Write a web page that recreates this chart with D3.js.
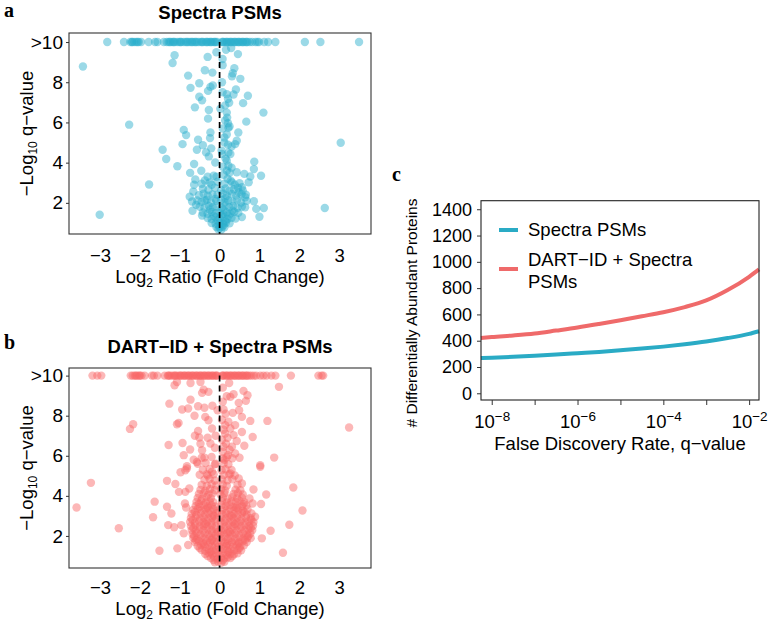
<!DOCTYPE html>
<html><head><meta charset="utf-8">
<script src="https://cdn.jsdelivr.net/npm/d3@7"></script>
<style>
body{margin:0;background:#fff}
svg{display:block}
text{font-family:"Liberation Sans",Arial,Helvetica,sans-serif;fill:#000}
</style>
</head><body>
<svg id="chart" width="768" height="623"></svg>
<script>
// ---------------- DATA ----------------
const log2Ticks = [-3, -2, -1, 0, 1, 2, 3];
const qTicks = [2, 4, 6, 8, 10];
const countTicks = [0, 200, 400, 600, 800, 1000, 1200, 1400];
const fdrTicks = [1e-8, 1e-7, 1e-6, 1e-5, 1e-4, 1e-3, 1e-2];
const seriesNames = ["Spectra PSMs", "DART\u2212ID + Spectra PSMs"];

// Panel a: Spectra PSMs — points capped at >10 (log2 ratio only)
const spectraTop = [-2.82,-2.4,-2.24,-2.19,-2.14,-2.09,-2.03,-1.97,-2.2,-2.06,-1.78,-1.62,-1.56,-1.4,-1.33,-1.28,-1.25,-1.22,-1.17,-1.15,-1.12,-1.06,-1.01,-0.98,-0.96,-0.9,-0.85,-0.82,-0.79,-0.74,-0.7,-0.68,-0.63,-0.6,-0.57,-0.52,-0.46,-0.44,-0.41,-0.35,-0.32,-0.3,-0.25,-0.22,-0.2,-0.15,-0.12,-0.1,-0.06,0.06,0.08,0.1,0.15,0.18,0.2,0.25,0.28,0.3,0.35,0.38,0.4,0.45,0.48,0.5,0.55,0.58,0.6,0.65,0.68,0.7,0.76,0.82,0.9,0.95,0.99,1.12,1.22,1.4,2.14,2.53,3.5];
// Panel a: other points [log2 ratio, -log10 q]
const spectraPoints = [[-3.43,8.78],[-1.13,9.34],[-1.18,8.96],[-0.08,9.49],[-0.3,9.26],[0.16,9.62],[0.29,9.7],[0.46,9.4],[0.075,9.16],[0.075,8.85],[0.37,8.7],[0.33,8.45],[0.31,8.3],[0.52,8.17],[-0.79,8.33],[-0.37,8.6],[-0.18,8.48],[-0.51,7.95],[-0.73,7.72],[-0.17,7.84],[-0.23,7.77],[0.06,8.0],[0.41,7.64],[-0.29,7.57],[0.075,7.5],[0.18,7.4],[0.35,7.39],[0.71,7.33],[-0.51,7.28],[-0.44,7.1],[0.21,7.18],[0.24,6.98],[0.14,6.85],[0.59,6.96],[-0.62,6.75],[-0.27,6.62],[0.02,6.68],[0.18,6.49],[1.1,6.49],[0.19,6.24],[-0.29,6.19],[0.67,6.04],[-2.27,5.89],[0.21,5.96],[0.22,5.74],[-0.9,5.63],[0.47,5.5],[-0.23,5.5],
[-0.84,5.37],[-0.54,5.14],[-0.24,5.22],[0.12,5.25],[0.43,5.09],[0.21,4.89],[0.39,4.92],[-1.43,4.64],[-0.93,4.92],[-0.57,4.64],[-0.42,4.87],[-0.21,4.71],[-0.34,4.51],[-0.27,4.31],[0.06,4.43],[0.27,4.43],[3.04,4.99],[-1.34,4.18],[-1.06,3.82],[-0.64,3.93],[-0.46,3.6],[-0.74,3.49],[-0.61,3.16],[-0.11,4.01],[0.22,3.85],[0.18,4.1],[0.87,4.05],[0.86,3.68],[1.04,3.35],[0.77,3.31],[0.62,3.44],[0.43,3.52],[0.31,3.02],[-0.15,3.35],[-0.25,3.02],[-0.37,3.11],[-1.77,2.91],[-0.66,2.56],[0.56,2.78],[0.73,3.02],[0.48,2.53],[0.64,2.28],[0.86,2.08],[-0.69,2.07],[-0.59,1.9],[-0.68,1.61],[-0.37,2.12],[-0.11,2.2],[0.14,2.23],[0.92,1.7],[1.11,1.74],[1.0,1.31],[0.56,1.29],[2.64,1.74],[-3.01,1.41],[-0.44,1.37],
[-0.05,3.05],[0.12,2.95],[0.28,3.1],[0.38,2.9],[0.5,2.98],[-0.2,2.9],[0.2,3.2],
[-0.42,2.7],[-0.28,2.65],[-0.12,2.75],[0.04,2.62],[0.15,2.72],[0.25,2.6],[0.36,2.68],[0.46,2.75],[0.58,2.62],
[-0.52,2.38],[-0.4,2.45],[-0.3,2.35],[-0.18,2.42],[-0.05,2.4],[0.08,2.46],[0.18,2.35],[0.3,2.44],[0.42,2.36],[0.55,2.42],[0.66,2.4],
[-0.56,2.12],[-0.45,2.05],[-0.32,2.15],[-0.22,2.02],[-0.08,2.1],[0.04,2.14],[0.13,2.03],[0.22,2.12],[0.33,2.06],[0.44,2.15],[0.54,2.02],[0.68,2.1],
[-0.5,1.8],[-0.38,1.76],[-0.27,1.85],[-0.17,1.78],[-0.06,1.82],[0.05,1.75],[0.14,1.86],[0.24,1.78],[0.34,1.84],[0.45,1.75],[0.56,1.82],[0.64,1.78],
[-0.42,1.52],[-0.3,1.46],[-0.2,1.55],[-0.1,1.48],[0.0,1.54],[0.09,1.45],[0.18,1.52],[0.27,1.47],[0.37,1.55],[0.47,1.5],
[-0.3,1.24],[-0.2,1.2],[-0.1,1.28],[0.0,1.22],[0.1,1.27],[0.2,1.2],[0.3,1.26],[0.4,1.22],
[-0.2,1.0],[-0.1,0.96],[0.0,1.02],[0.08,0.97],[0.16,1.02],[0.25,0.98],
[-0.08,0.8],[0.0,0.76],[0.07,0.82],[0.12,0.78],[-0.03,0.68],[0.04,0.66],
[0.1,3.4],[0.18,3.6],[0.08,3.8],[0.25,3.5],[0.15,4.2],[0.3,3.75],[0.05,4.6],[0.22,4.5],[0.12,5.0],[0.3,4.8],[0.18,5.4],[0.08,5.7],[0.25,5.8],[0.14,6.1],[-0.08,3.3],[-0.3,3.3],[-0.45,2.95],[-0.75,2.3],[-0.64,2.9],
[-0.15,1.35],[0.05,1.38],[0.22,1.36],[-0.05,1.12],[0.14,1.1],[0.32,1.62],[-0.24,1.66],[0.1,1.65],[-0.02,0.88],[0.1,0.9]];

// Panel b: DART-ID + Spectra PSMs — points capped at >10
const dartTop = [-3.19,-3.07,-2.97,-2.23,-2.18,-2.13,-2.1,-2.07,-2.02,-2.0,-1.96,-1.88,-1.7,-1.65,-1.56,-1.38,-1.3,-1.28,-1.25,-1.2,-1.15,-1.12,-1.1,-1.05,-1.0,-0.98,-0.95,-0.9,-0.88,-0.85,-0.8,-0.78,-0.75,-0.7,-0.68,-0.65,-0.6,-0.58,-0.55,-0.5,-0.48,-0.45,-0.4,-0.38,-0.35,-0.3,-0.28,-0.25,-0.2,-0.18,-0.15,-0.1,-0.08,-0.06,0.06,0.08,0.1,0.15,0.18,0.2,0.25,0.28,0.3,0.35,0.38,0.4,0.45,0.48,0.5,0.55,0.58,0.6,0.65,0.68,0.7,0.75,0.8,0.86,0.92,1.02,1.1,1.18,1.3,1.4,1.79,2.48,2.56,2.6];
// Panel b: other points [log2 ratio, -log10 q]
const dartPoints = [[-1.13,9.52],[-1.07,9.68],[-0.73,9.63],[-0.48,9.68],[-0.4,9.3],[-0.44,9.14],[-0.28,9.19],[0.08,9.4],[0.24,9.63],[0.18,8.97],[0.35,9.07],[0.6,9.24],[0.7,9.02],[1.49,9.44],[-0.73,8.8],[-1.26,8.6],[-0.94,8.31],[-0.79,8.36],[-0.54,8.47],[-0.38,8.4],[-0.18,8.5],[-0.05,8.27],[0.1,8.31],[0.27,8.94],[0.48,8.64],[0.66,8.74],[0.33,8.14],[0.49,8.27],[0.56,7.94],[-0.63,8.0],[-0.36,7.94],[-0.28,7.77],[-1.03,7.64],[-1.07,7.57],[-2.17,7.57],[-2.25,7.34],[0.77,7.74],[1.2,7.74],[3.25,7.41],[-0.54,7.24],[-0.51,6.91],[-0.19,7.36],[0.14,7.53],[0.27,7.36],[0.39,7.53],[0.56,7.19],[0.14,7.11],[0.35,7.03],[0.83,6.94],[-1.28,6.54],[-0.93,6.64],[-0.23,6.61],[0.1,6.45],[0.31,6.45],[0.43,6.74],[-0.74,6.31],[-0.9,6.03],[-0.44,6.28],[-0.38,5.91],[1.37,5.91],[0.21,6.03],[0.39,6.11],[1.02,5.53],[-0.57,5.69],[-0.82,5.48],
[0.08,8.7],[0.15,8.1],[0.06,7.8],[0.22,7.7],[0.1,7.3],[0.2,6.9],[0.06,6.8],[0.16,6.6],[0.25,6.3],[0.08,6.2],[-0.1,7.0],[-0.12,6.4],[-0.3,6.9],[-0.62,7.0],[-0.48,6.6],[0.5,5.9],[0.62,6.5],[-0.65,5.8],[0.12,5.8],[-0.1,5.6],
[-3.23,4.65],[-3.59,3.42],[-2.53,2.38],[-1.51,1.26],[-1.06,1.38],[-1.67,2.93],[-1.63,3.71],[-1.32,4.75],[-1.11,4.59],[-1.32,3.46],[-1.21,3.12],[-1.29,2.54],[-1.14,2.43],[-0.98,5.18],[-0.82,5.37],[-1.02,4.2],[-0.86,4.2],[-0.76,4.37],[-0.87,3.62],[-0.84,3.42],[-0.96,2.54],[-0.9,2.13],[-0.79,1.55],[1.85,4.42],[2.08,3.27],[1.75,2.56],[1.59,1.16],[1.28,2.26],[1.06,1.88],[1.17,4.07],[1.04,3.59],[0.85,4.32],[0.89,2.96],[1.02,5.45],[0.75,3.87],[0.83,3.62],[0.56,4.62],[0.48,4.87],[0.27,5.12],[-0.32,5.08],[-0.19,5.2],[-0.86,5.28],
[-0.12,0.68],[-0.04,0.72],[0.04,0.66],[0.12,0.71],
[-0.22,0.9],[-0.13,0.94],[-0.05,0.87],[0.04,0.92],[0.12,0.88],[0.2,0.93],[0.27,0.9],
[-0.36,1.1],[-0.27,1.14],[-0.18,1.07],[-0.09,1.12],[0.0,1.08],[0.09,1.13],[0.18,1.06],[0.27,1.12],[0.36,1.09],[0.45,1.13],
[-0.45,1.3],[-0.36,1.26],[-0.27,1.33],[-0.18,1.28],[-0.09,1.32],[0.0,1.27],[0.09,1.33],[0.18,1.29],[0.27,1.34],[0.36,1.27],[0.45,1.31],[0.54,1.28],
[-0.55,1.5],[-0.46,1.54],[-0.37,1.47],[-0.28,1.53],[-0.19,1.48],[-0.1,1.52],[-0.02,1.46],[0.07,1.53],[0.16,1.49],[0.25,1.54],[0.34,1.47],[0.43,1.52],[0.52,1.48],[0.61,1.53],
[-0.62,1.7],[-0.52,1.74],[-0.42,1.67],[-0.33,1.72],[-0.24,1.68],[-0.15,1.73],[-0.06,1.66],[0.04,1.71],[0.13,1.67],[0.22,1.74],[0.31,1.69],[0.4,1.72],[0.49,1.66],[0.58,1.73],[0.68,1.7],
[-0.66,1.9],[-0.56,1.86],[-0.46,1.93],[-0.36,1.88],[-0.26,1.92],[-0.17,1.87],[-0.08,1.93],[0.03,1.89],[0.12,1.94],[0.21,1.86],[0.3,1.91],[0.4,1.88],[0.5,1.93],[0.6,1.87],[0.7,1.92],[0.78,1.89],
[-0.68,2.1],[-0.58,2.14],[-0.48,2.07],[-0.38,2.12],[-0.28,2.08],[-0.19,2.13],[-0.1,2.06],[0.02,2.11],[0.11,2.07],[0.2,2.14],[0.3,2.09],[0.39,2.12],[0.49,2.06],[0.59,2.13],[0.68,2.08],[0.77,2.12],
[-0.7,2.3],[-0.6,2.26],[-0.5,2.33],[-0.4,2.28],[-0.3,2.32],[-0.2,2.27],[-0.1,2.34],[0.03,2.29],[0.12,2.33],[0.22,2.26],[0.32,2.31],[0.42,2.28],[0.52,2.34],[0.62,2.27],[0.72,2.32],[0.82,2.29],
[-0.72,2.5],[-0.61,2.54],[-0.5,2.47],[-0.4,2.52],[-0.3,2.48],[-0.2,2.53],[-0.1,2.46],[0.04,2.51],[0.14,2.47],[0.24,2.54],[0.34,2.49],[0.44,2.52],[0.54,2.46],[0.64,2.53],[0.74,2.48],[0.84,2.51],
[-0.74,2.7],[-0.62,2.66],[-0.51,2.73],[-0.41,2.68],[-0.31,2.72],[-0.21,2.67],[-0.11,2.74],[0.03,2.69],[0.13,2.73],[0.23,2.66],[0.33,2.71],[0.43,2.68],[0.53,2.74],[0.63,2.67],[0.73,2.72],[0.85,2.69],
[-0.72,2.9],[-0.6,2.94],[-0.49,2.87],[-0.39,2.92],[-0.29,2.88],[-0.19,2.93],[-0.09,2.86],[0.05,2.91],[0.15,2.87],[0.25,2.94],[0.35,2.89],[0.45,2.92],[0.55,2.86],[0.66,2.93],[0.78,2.88],
[-0.7,3.1],[-0.58,3.06],[-0.47,3.13],[-0.37,3.08],[-0.27,3.12],[-0.17,3.07],[-0.07,3.14],[0.06,3.09],[0.16,3.13],[0.26,3.06],[0.36,3.11],[0.46,3.08],[0.56,3.14],[0.68,3.07],[0.8,3.12],
[-0.66,3.3],[-0.55,3.34],[-0.45,3.27],[-0.35,3.32],[-0.25,3.28],[-0.15,3.33],[-0.05,3.26],[0.07,3.31],[0.17,3.27],[0.27,3.34],[0.37,3.29],[0.47,3.32],[0.58,3.26],[0.7,3.33],
[-0.6,3.5],[-0.5,3.46],[-0.4,3.53],[-0.3,3.48],[-0.2,3.52],[-0.1,3.47],[0.05,3.54],[0.15,3.49],[0.25,3.53],[0.35,3.46],[0.45,3.51],[0.56,3.48],[0.67,3.52],
[-0.58,3.7],[-0.46,3.74],[-0.35,3.67],[-0.25,3.72],[-0.16,3.68],[0.06,3.73],[0.18,3.67],[0.3,3.72],[0.4,3.69],[0.5,3.74],[0.62,3.68],
[-0.55,3.9],[-0.44,3.86],[-0.33,3.93],[-0.22,3.88],[0.08,3.92],[0.2,3.87],[0.32,3.93],[0.44,3.88],[0.56,3.91],
[-0.52,4.1],[-0.4,4.14],[-0.28,4.07],[-0.18,4.12],[0.02,4.08],[0.12,4.13],[0.35,4.09],[0.46,4.14],[0.58,4.07],
[-0.48,4.3],[-0.36,4.26],[-0.24,4.33],[-0.12,4.28],[0.04,4.32],[0.14,4.27],[0.4,4.31],[0.52,4.28],
[-0.45,4.55],[-0.32,4.5],[-0.2,4.58],[-0.08,4.52],[0.08,4.57],[0.18,4.5],[0.45,4.55],
[-0.38,4.8],[-0.25,4.84],[-0.12,4.77],[0.06,4.82],[0.2,4.78],[0.32,4.83],
[-0.5,5.05],[-0.3,5.02],[-0.15,5.08],[0.1,5.04],[0.24,5.07],[0.38,5.02],
[-0.42,5.3],[-0.25,5.34],[0.05,5.28],[0.15,5.33],[0.3,5.29],
[-0.55,5.6],[-0.35,5.64],[-0.12,5.57],[0.1,5.62],[0.22,5.58],
[-0.45,5.9],[-0.2,5.94],[0.08,5.87],[0.18,5.93],[0.32,5.88],
[-0.15,0.8],[0.08,0.79],[-0.3,1.0],[0.32,1.0],[-0.5,1.4],[0.5,1.4],[-0.22,1.2],[0.22,1.2],[-0.4,1.6],[0.46,1.62],[-0.6,1.8],[0.64,1.8],[-0.2,1.8],[0.18,1.6],[-0.64,2.0],[0.72,2.0],[-0.05,2.2],[0.26,2.2],[-0.66,2.4],[0.78,2.4],[-0.35,2.6],[0.38,2.6],[-0.68,2.8],[0.8,2.8],[-0.14,3.0],[0.3,3.0],[-0.62,3.2],[0.62,3.2],[-0.3,3.4],[0.42,3.4],[-0.52,3.6],[0.6,3.6]];

// Panel c: number of differentially abundant proteins vs FDR (q-value)
const fdrValues = [5.6e-9, 1e-8, 3.16e-8, 1e-7, 3.16e-7, 1e-6, 3.16e-6, 1e-5, 3.16e-5, 1e-4, 3.16e-4, 1e-3, 3.16e-3, 1e-2, 1.7e-2];
const spectraCounts = [268, 271, 278, 286, 295, 305, 315, 327, 340, 355, 373, 394, 420, 452, 472];
const dartCounts = [420, 428, 440, 455, 477, 500, 527, 556, 586, 617, 656, 706, 785, 886, 942];

// ---------------- STYLE ----------------
const blue = "#2AAFCB", red = "#F96565";
const blueLine = "#2AABC5", redLine = "#EF6A6A";
const font = "'Liberation Sans',Arial,Helvetica,sans-serif";

const svg = d3.select("#chart");
svg.append("rect").attr("width", 768).attr("height", 623).attr("fill", "#fff");

function panelLabel(t, x, y) {
  svg.append("text").attr("x", x).attr("y", y).text(t)
    .style("font-family", "'Liberation Serif','Times New Roman',serif")
    .style("font-weight", "bold").style("font-size", "20px");
}

function volcano(cfg) {
  const x = d3.scaleLinear().domain([-3.78, 3.8]).range([69, 371]);
  const y = d3.scaleLinear().domain(cfg.yDomain).range([cfg.bottom, cfg.top]);
  const g = svg.append("g");
  const pts = cfg.topRow.map(v => [v, 10]).concat(cfg.points);
  g.append("g").selectAll("circle").data(pts).join("circle")
    .attr("cx", d => x(d[0])).attr("cy", d => y(d[1])).attr("r", 4.2)
    .attr("fill", cfg.color).attr("fill-opacity", 0.47);
  g.append("line")
    .attr("x1", x(0)).attr("x2", x(0)).attr("y1", y(10)).attr("y2", cfg.bottom)
    .attr("stroke", "#000").attr("stroke-width", 1.7).attr("stroke-dasharray", "6,4");
  g.append("rect").attr("x", 69).attr("y", cfg.top).attr("width", 302).attr("height", cfg.bottom - cfg.top)
    .attr("fill", "none").attr("stroke", "#333").attr("stroke-width", 1.1);

  const ya = g.append("g").attr("transform", "translate(69,0)")
    .call(d3.axisLeft(y).tickValues(qTicks).tickSize(3).tickPadding(3)
      .tickFormat(d => d === 10 ? ">10" : d));
  ya.select(".domain").remove();
  ya.selectAll("line").attr("stroke", "#333");
  ya.selectAll("text").style("font-family", font).style("font-size", "19px");

  const xa = g.append("g").attr("transform", `translate(0,${cfg.bottom})`)
    .call(d3.axisBottom(x).tickValues(log2Ticks).tickSize(0).tickPadding(cfg.xPad).tickFormat(d3.format("d")));
  xa.select(".domain").remove();
  xa.selectAll("text").style("font-family", font).style("font-size", "18.5px");

  // titles
  g.append("text").attr("x", 220).attr("y", cfg.titleY).attr("text-anchor", "middle")
    .style("font-weight", "bold").style("font-size", "18.5px").text(cfg.title);
  const xt = g.append("text").attr("x", 220).attr("y", cfg.xTitleY).attr("text-anchor", "middle")
    .style("font-size", "18.5px");
  xt.append("tspan").text("Log");
  xt.append("tspan").attr("dy", 4).style("font-size", "12px").text("2");
  xt.append("tspan").attr("dy", -4).text(" Ratio (Fold Change)");
  const yt = g.append("text").attr("transform", `translate(33,${(cfg.top + cfg.bottom) / 2}) rotate(-90)`)
    .attr("text-anchor", "middle").style("font-size", "18.5px");
  yt.append("tspan").text("\u2212Log");
  yt.append("tspan").attr("dy", 4).style("font-size", "12px").text("10");
  yt.append("tspan").attr("dy", -4).text(" q\u2212value");
}

panelLabel("a", 4, 17);
volcano({topRow: spectraTop, points: spectraPoints, color: blue, top: 33, bottom: 234,
  yDomain: [0.45, 10.45], xPad: 15, title: seriesNames[0], titleY: 19, xTitleY: 283});
panelLabel("b", 4, 349);
volcano({topRow: dartTop, points: dartPoints, color: red, top: 368, bottom: 568,
  yDomain: [0.4, 10.38], xPad: 13, title: seriesNames[1], titleY: 353, xTitleY: 615});

// ---------------- Panel c ----------------
panelLabel("c", 392, 181);
const xc = d3.scaleLog().domain([Math.pow(10, -8.25), Math.pow(10, -1.77)]).range([481, 759]);
const yc = d3.scaleLinear().domain([-51, 1465]).range([400, 200.7]);
const gc = svg.append("g");

const line = d3.line().x(d => xc(d[0])).y(d => yc(d[1])).curve(d3.curveMonotoneX);
gc.append("path").datum(fdrValues.map((q, i) => [q, spectraCounts[i]]))
  .attr("d", line).attr("fill", "none").attr("stroke", blueLine).attr("stroke-width", 4);
gc.append("path").datum(fdrValues.map((q, i) => [q, dartCounts[i]]))
  .attr("d", line).attr("fill", "none").attr("stroke", redLine).attr("stroke-width", 4);

gc.append("rect").attr("x", 481).attr("y", 200.7).attr("width", 278).attr("height", 199.3)
  .attr("fill", "none").attr("stroke", "#222").attr("stroke-width", 1.1);

const yca = gc.append("g").attr("transform", "translate(481,0)")
  .call(d3.axisLeft(yc).tickValues(countTicks).tickSize(4).tickPadding(5).tickFormat(d3.format("d")));
yca.select(".domain").remove();
yca.selectAll("line").attr("stroke", "#333");
yca.selectAll("text").style("font-family", font).style("font-size", "18px");

const xca = gc.append("g").attr("transform", "translate(0,400)")
  .call(d3.axisBottom(xc).tickValues(fdrTicks).tickSize(5).tickPadding(10).tickFormat(() => ""));
xca.select(".domain").remove();
xca.selectAll("line").attr("stroke", "#333");
xca.selectAll(".tick text").each(function (d) {
  const e = Math.round(Math.log10(d));
  if (e % 2 === 0) {
    const t = d3.select(this).style("font-family", font).style("font-size", "18.5px").text("10");
    t.append("tspan").attr("dy", -7).style("font-size", "13.5px").text("\u2212" + (-e));
  }
});

gc.append("text").attr("x", 620).attr("y", 450).attr("text-anchor", "middle")
  .style("font-size", "18.5px").text("False Discovery Rate, q\u2212value");
gc.append("text").attr("transform", "translate(417,313) rotate(-90)").attr("text-anchor", "middle")
  .style("font-size", "15.5px").text("# Differentially Abundant Proteins");

// legend
const legend = [
  {color: blueLine, y: 230, lines: ["Spectra PSMs"], base: [236]},
  {color: redLine, y: 269, lines: ["DART\u2212ID + Spectra", "PSMs"], base: [266, 288]}
];
legend.forEach(l => {
  gc.append("line").attr("x1", 499).attr("x2", 518).attr("y1", l.y).attr("y2", l.y)
    .attr("stroke", l.color).attr("stroke-width", 4);
  l.lines.forEach((s, i) => gc.append("text").attr("x", 528).attr("y", l.base[i])
    .style("font-size", "18.5px").text(s));
});
</script>
</body></html>
